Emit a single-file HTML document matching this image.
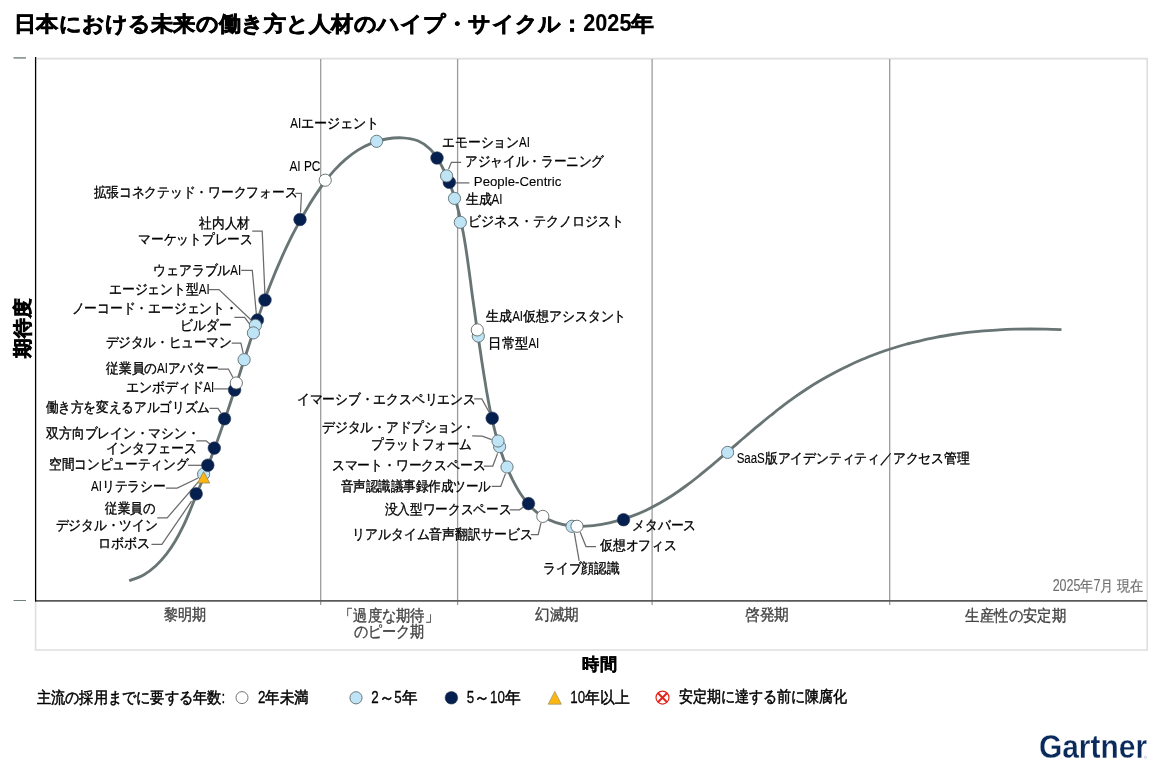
<!DOCTYPE html>
<html lang="ja"><head><meta charset="utf-8"><title>Hype Cycle</title>
<style>html,body{margin:0;padding:0;background:#fff}body{width:1170px;height:771px;overflow:hidden;font-family:"Liberation Sans", sans-serif}svg{display:block;will-change:transform}text{font-family:"Liberation Sans", sans-serif;white-space:pre}</style></head><body>
<svg width="1170" height="771" viewBox="0 0 1170 771">
<rect width="1170" height="771" fill="#fff"/>
<g fill="none">
<path d="M36.5 58.6H1147.2V650H35.6V601" stroke="#dedede" stroke-width="1.6"/>
<path d="M320.7 59V605" stroke="#9c9c9c" stroke-width="1.3"/>
<path d="M457.6 59V605" stroke="#9c9c9c" stroke-width="1.3"/>
<path d="M652.1 59V605" stroke="#9c9c9c" stroke-width="1.3"/>
<path d="M889.7 59V605" stroke="#9c9c9c" stroke-width="1.3"/>
<path d="M35 600.8H1147" stroke="#5a5a5a" stroke-width="1.7"/>
<path d="M35.6 57V601.6" stroke="#000" stroke-width="1.3"/>
<path d="M13.5 57.9H26" stroke="#7b8888" stroke-width="1.5"/>
<path d="M13.5 600.5H26" stroke="#708080" stroke-width="1"/>
<path d="M129.2 580.8C131.6 579.8 139.1 577.4 143.6 574.9C148.0 572.4 152.1 569.2 155.9 565.7C159.7 562.3 163.2 558.3 166.4 554.2C169.6 550.1 172.6 545.6 175.3 541.1C178.0 536.6 180.4 531.9 182.7 527.2C185.0 522.6 187.0 517.9 189.0 513.1C191.0 508.4 192.8 503.6 194.8 498.9C196.7 494.1 198.6 489.3 200.6 484.5C202.5 479.6 204.4 474.8 206.3 469.9C208.3 465.1 210.2 460.2 212.0 455.3C213.9 450.4 215.7 445.5 217.4 440.6C219.2 435.7 220.9 430.8 222.6 425.9C224.3 420.9 226.0 416.0 227.6 411.1C229.3 406.1 230.9 401.2 232.5 396.2C234.1 391.3 235.7 386.3 237.3 381.4C238.9 376.4 240.4 371.5 242.0 366.5C243.6 361.6 245.2 356.7 246.8 351.7C248.4 346.8 250.0 341.9 251.6 336.9C253.3 332.0 254.9 327.1 256.6 322.2C258.3 317.3 260.0 312.4 261.7 307.6C263.5 302.7 265.3 297.8 267.1 293.0C269.0 288.1 270.8 283.3 272.8 278.5C274.7 273.7 276.7 268.9 278.8 264.2C280.8 259.4 282.9 254.7 285.1 250.0C287.3 245.3 289.6 240.6 291.9 235.9C294.3 231.3 296.7 226.7 299.3 222.1C301.8 217.5 304.4 212.9 307.1 208.4C309.8 203.9 312.6 199.3 315.6 194.9C318.5 190.5 321.5 186.1 324.7 182.0C327.9 177.8 331.2 173.7 334.7 169.9C338.2 166.1 341.9 162.4 345.8 159.1C349.6 155.9 353.6 152.8 357.9 150.1C362.2 147.5 366.6 145.1 371.3 143.3C376.0 141.4 381.0 139.9 386.2 139.0C391.3 138.1 397.0 137.5 402.3 137.8C407.6 138.1 413.1 138.9 417.8 140.8C422.5 142.7 426.7 145.7 430.3 149.2C433.9 152.7 436.7 157.3 439.4 161.8C442.1 166.3 444.3 171.2 446.5 176.0C448.6 180.8 450.5 185.6 452.3 190.5C454.0 195.4 455.6 200.4 457.0 205.4C458.4 210.4 459.6 215.4 460.7 220.5C461.9 225.5 462.8 230.7 463.8 235.8C464.7 240.9 465.5 246.0 466.3 251.2C467.1 256.3 467.8 261.5 468.5 266.6C469.2 271.8 469.9 277.0 470.6 282.1C471.2 287.3 471.9 292.4 472.6 297.6C473.4 302.7 474.1 307.9 474.8 313.0C475.5 318.1 476.2 323.3 477.0 328.4C477.7 333.5 478.5 338.7 479.2 343.8C480.0 348.9 480.8 354.1 481.5 359.2C482.3 364.4 483.1 369.5 483.9 374.6C484.8 379.8 485.6 384.9 486.4 390.1C487.3 395.2 488.2 400.4 489.2 405.5C490.2 410.6 491.2 415.7 492.4 420.8C493.6 425.8 494.8 430.9 496.2 435.9C497.5 440.9 499.0 445.9 500.7 450.8C502.3 455.7 504.1 460.6 506.1 465.4C508.0 470.2 510.2 474.9 512.5 479.6C514.9 484.2 517.4 488.9 520.2 493.3C523.1 497.6 526.1 502.0 529.6 505.7C533.1 509.4 537.1 512.9 541.4 515.6C545.7 518.4 550.5 520.7 555.3 522.3C560.2 524.0 565.4 525.1 570.5 525.8C575.6 526.4 580.8 526.5 586.0 526.2C591.2 526.0 596.5 525.3 601.7 524.4C606.8 523.5 612.0 522.3 617.0 520.9C622.1 519.6 627.0 518.0 631.9 516.2C636.7 514.4 641.5 512.4 646.2 510.2C650.8 508.0 655.4 505.6 659.9 503.1C664.3 500.5 668.7 497.8 673.0 495.0C677.4 492.1 681.6 489.1 685.8 486.0C690.0 483.0 694.1 479.8 698.2 476.5C702.3 473.3 706.3 469.9 710.3 466.6C714.3 463.2 718.3 459.8 722.3 456.4C726.3 453.0 730.2 449.6 734.2 446.2C738.1 442.8 742.0 439.3 746.0 436.0C750.0 432.6 753.9 429.2 757.9 425.9C761.9 422.6 765.9 419.2 769.9 416.0C774.0 412.8 778.0 409.5 782.2 406.4C786.3 403.3 790.4 400.2 794.7 397.2C798.9 394.2 803.2 391.3 807.5 388.5C811.9 385.6 816.3 382.9 820.8 380.3C825.2 377.7 829.8 375.1 834.4 372.7C839.0 370.2 843.6 367.9 848.4 365.7C853.1 363.4 857.8 361.3 862.6 359.3C867.4 357.3 872.3 355.4 877.2 353.5C882.0 351.7 887.0 350.0 891.9 348.5C896.9 346.9 901.8 345.4 906.9 344.0C911.9 342.7 916.9 341.4 922.0 340.3C927.0 339.1 932.1 338.1 937.2 337.1C942.3 336.1 947.4 335.3 952.6 334.5C957.7 333.7 962.9 333.0 968.0 332.4C973.2 331.8 978.4 331.3 983.6 330.9C988.8 330.5 994.0 330.1 999.1 329.8C1004.3 329.5 1009.5 329.3 1014.7 329.2C1020.0 329.1 1025.2 329.0 1030.4 329.0C1035.5 329.0 1040.7 329.1 1045.9 329.2C1051.1 329.3 1058.9 329.6 1061.5 329.7" stroke="#697474" stroke-width="2.85"/>
<polyline points="295.4,193.4 301.5,193.4 300.5,212.5" stroke="#6a6a6a" stroke-width="1.25"/>
<polyline points="252.2,231.1 262.2,231.1 264.9,294.0" stroke="#6a6a6a" stroke-width="1.25"/>
<polyline points="241.2,270.4 252.3,270.4 256.4,314.5" stroke="#6a6a6a" stroke-width="1.25"/>
<polyline points="208.9,289.6 219.0,289.6 252.2,321.0" stroke="#6a6a6a" stroke-width="1.25"/>
<polyline points="234.4,317.4 244.6,317.4 250.6,325.4" stroke="#6a6a6a" stroke-width="1.25"/>
<polyline points="231.7,343.0 240.9,343.0 243.2,353.2" stroke="#6a6a6a" stroke-width="1.25"/>
<polyline points="218.0,369.0 228.4,369.0 233.0,377.5" stroke="#6a6a6a" stroke-width="1.25"/>
<polyline points="213.8,388.9 229.5,388.9" stroke="#6a6a6a" stroke-width="1.25"/>
<polyline points="209.5,408.4 218.0,408.4 221.0,413.0" stroke="#6a6a6a" stroke-width="1.25"/>
<polyline points="196.3,440.8 206.1,440.8 209.9,444.0" stroke="#6a6a6a" stroke-width="1.25"/>
<polyline points="188.0,465.3 202.0,465.3" stroke="#6a6a6a" stroke-width="1.25"/>
<polyline points="165.9,488.1 177.2,488.1 198.2,478.0" stroke="#6a6a6a" stroke-width="1.25"/>
<polyline points="157.3,517.8 167.2,517.8 198.6,481.6" stroke="#6a6a6a" stroke-width="1.25"/>
<polyline points="151.5,544.3 161.9,544.3 191.5,501.2" stroke="#6a6a6a" stroke-width="1.25"/>
<polyline points="448.5,169.2 451.4,162.3 461.2,162.3" stroke="#6a6a6a" stroke-width="1.25"/>
<polyline points="455.5,182.9 469.4,182.9" stroke="#6a6a6a" stroke-width="1.25"/>
<polyline points="474.2,398.9 481.8,398.9 489.2,412.2" stroke="#6a6a6a" stroke-width="1.25"/>
<polyline points="472.2,435.9 482.3,436.1 491.6,439.7" stroke="#6a6a6a" stroke-width="1.25"/>
<polyline points="483.8,466.0 492.8,466.0 497.6,453.4" stroke="#6a6a6a" stroke-width="1.25"/>
<polyline points="491.7,486.4 500.7,486.4 505.5,473.6" stroke="#6a6a6a" stroke-width="1.25"/>
<polyline points="509.6,509.8 519.5,509.8 523.5,507.0" stroke="#6a6a6a" stroke-width="1.25"/>
<polyline points="530.8,534.6 538.2,534.6 541.0,522.8" stroke="#6a6a6a" stroke-width="1.25"/>
<polyline points="596.0,546.6 586.0,546.6 580.2,532.2" stroke="#6a6a6a" stroke-width="1.25"/>
<polyline points="574.3,532.8 579.2,560.8" stroke="#6a6a6a" stroke-width="1.25"/>
</g>
<circle cx="196.2" cy="493.8" r="6.3" fill="#05204f" stroke="#2b3a55" stroke-width="0.6"/>
<circle cx="203.6" cy="474.2" r="6.1" fill="#bfe4f6" stroke="#5f6d72" stroke-width="0.9"/>
<path d="M203.6 471.6L209.7 483H197.6Z" fill="#fbb710" stroke="#8a7a55" stroke-width="0.7" stroke-linejoin="round"/>
<circle cx="207.8" cy="465.2" r="6.3" fill="#05204f" stroke="#2b3a55" stroke-width="0.6"/>
<circle cx="214.3" cy="448.1" r="6.3" fill="#05204f" stroke="#2b3a55" stroke-width="0.6"/>
<circle cx="224.5" cy="418.8" r="6.3" fill="#05204f" stroke="#2b3a55" stroke-width="0.6"/>
<circle cx="234.6" cy="390.0" r="6.3" fill="#05204f" stroke="#2b3a55" stroke-width="0.6"/>
<circle cx="236.3" cy="383.0" r="6.1" fill="#fff" stroke="#5f6666" stroke-width="0.9"/>
<circle cx="244.1" cy="359.7" r="6.1" fill="#bfe4f6" stroke="#5f6d72" stroke-width="0.9"/>
<circle cx="257.4" cy="320.1" r="6.3" fill="#05204f" stroke="#2b3a55" stroke-width="0.6"/>
<circle cx="255.4" cy="325.3" r="6.1" fill="#bfe4f6" stroke="#5f6d72" stroke-width="0.9"/>
<circle cx="253.4" cy="332.9" r="6.1" fill="#bfe4f6" stroke="#5f6d72" stroke-width="0.9"/>
<circle cx="265.0" cy="300.0" r="6.3" fill="#05204f" stroke="#2b3a55" stroke-width="0.6"/>
<circle cx="300.0" cy="219.5" r="6.3" fill="#05204f" stroke="#2b3a55" stroke-width="0.6"/>
<circle cx="325.2" cy="180.2" r="6.1" fill="#fff" stroke="#5f6666" stroke-width="0.9"/>
<circle cx="376.6" cy="141.3" r="6.1" fill="#bfe4f6" stroke="#5f6d72" stroke-width="0.9"/>
<circle cx="437.0" cy="158.0" r="6.3" fill="#05204f" stroke="#2b3a55" stroke-width="0.6"/>
<circle cx="449.3" cy="182.3" r="6.3" fill="#05204f" stroke="#2b3a55" stroke-width="0.6"/>
<circle cx="446.6" cy="175.9" r="6.1" fill="#bfe4f6" stroke="#5f6d72" stroke-width="0.9"/>
<circle cx="454.5" cy="198.4" r="6.1" fill="#bfe4f6" stroke="#5f6d72" stroke-width="0.9"/>
<circle cx="460.3" cy="222.3" r="6.1" fill="#bfe4f6" stroke="#5f6d72" stroke-width="0.9"/>
<circle cx="478.3" cy="336.1" r="6.1" fill="#bfe4f6" stroke="#5f6d72" stroke-width="0.9"/>
<circle cx="477.3" cy="329.9" r="6.1" fill="#fff" stroke="#5f6666" stroke-width="0.9"/>
<circle cx="492.2" cy="418.2" r="6.3" fill="#05204f" stroke="#2b3a55" stroke-width="0.6"/>
<circle cx="499.6" cy="446.6" r="6.1" fill="#bfe4f6" stroke="#5f6d72" stroke-width="0.9"/>
<circle cx="498.0" cy="441.0" r="6.1" fill="#bfe4f6" stroke="#5f6d72" stroke-width="0.9"/>
<circle cx="507.0" cy="467.0" r="6.1" fill="#bfe4f6" stroke="#5f6d72" stroke-width="0.9"/>
<circle cx="528.5" cy="503.6" r="6.3" fill="#05204f" stroke="#2b3a55" stroke-width="0.6"/>
<circle cx="542.8" cy="516.4" r="6.1" fill="#fff" stroke="#5f6666" stroke-width="0.9"/>
<circle cx="572.0" cy="526.3" r="6.1" fill="#bfe4f6" stroke="#5f6d72" stroke-width="0.9"/>
<circle cx="577.0" cy="526.3" r="6.1" fill="#fff" stroke="#5f6666" stroke-width="0.9"/>
<circle cx="623.5" cy="519.7" r="6.3" fill="#05204f" stroke="#2b3a55" stroke-width="0.6"/>
<circle cx="727.6" cy="452.4" r="6.1" fill="#bfe4f6" stroke="#5f6d72" stroke-width="0.9"/>
<circle cx="242" cy="697.6" r="6.0" fill="#fff" stroke="#666" stroke-width="0.9"/>
<circle cx="356" cy="697.8" r="6.1" fill="#bfe4f6" stroke="#5f6d72" stroke-width="0.9"/>
<circle cx="451.4" cy="697.8" r="6.3" fill="#05204f" stroke="#2b3a55" stroke-width="0.6"/>
<path d="M554.8 691.4L561.4 704.2H548.2Z" fill="#fbb710" stroke="#9a8c6a" stroke-width="0.7" stroke-linejoin="round"/>
<g stroke="#e3241a" fill="#fff"><circle cx="662.5" cy="697.6" r="6.5" stroke-width="1.2"/><path d="M657.9 693L667.1 702.2M667.1 693L657.9 702.2" stroke-width="2"/></g>
<text id="yl" transform="translate(29.30 357.50) rotate(-90)" font-size="19" font-weight="bold" fill="#000" stroke="#000" stroke-width="0.7" textLength="59.00" lengthAdjust="spacingAndGlyphs">期待度</text>
<text id="logo" x="1038.90" y="758.30" font-size="33" font-weight="bold" fill="#0b2a5c" stroke="#fff" stroke-width="0.35" textLength="108.20" lengthAdjust="spacingAndGlyphs">Gartner</text>
<circle cx="1145.5" cy="757.3" r="1.1" fill="none" stroke="#9aa3b5" stroke-width="0.5"/>
<g id="title" font-size="20.5" fill="#000" font-weight="bold" stroke="#000" stroke-width="0.7"><text x="14.29" y="30.91" textLength="569.03" lengthAdjust="spacingAndGlyphs">日本における未来の働き方と人材のハイプ・サイクル：</text><text x="583.32" y="30.91" stroke-width="0.1" font-size="23.0" textLength="48.10" lengthAdjust="spacingAndGlyphs">2025</text><text x="631.42" y="30.91" textLength="22.76" lengthAdjust="spacingAndGlyphs">年</text></g>
<text id="xl" x="582.34" y="669.62" font-size="16.5" fill="#000" font-weight="bold" stroke="#000" stroke-width="0.35" textLength="34.51" lengthAdjust="spacingAndGlyphs">時間</text>
<text id="p1" x="163.94" y="620.09" font-size="16" fill="#444" stroke="#444" stroke-width="0.35" textLength="42.45" lengthAdjust="spacingAndGlyphs">黎明期</text>
<text id="p2a" x="339.06" y="620.52" font-size="16" fill="#444" stroke="#444" stroke-width="0.35" textLength="100.00" lengthAdjust="spacingAndGlyphs">「過度な期待」</text>
<text id="p2b" x="353.61" y="637.02" font-size="16" fill="#444" stroke="#444" stroke-width="0.35" textLength="70.87" lengthAdjust="spacingAndGlyphs">のピーク期</text>
<text id="p3" x="534.98" y="619.98" font-size="16" fill="#444" stroke="#444" stroke-width="0.35" textLength="44.05" lengthAdjust="spacingAndGlyphs">幻滅期</text>
<text id="p4" x="744.86" y="619.92" font-size="16" fill="#444" stroke="#444" stroke-width="0.35" textLength="44.40" lengthAdjust="spacingAndGlyphs">啓発期</text>
<text id="p5" x="965.44" y="620.71" font-size="16" fill="#444" stroke="#444" stroke-width="0.35" textLength="100.50" lengthAdjust="spacingAndGlyphs">生産性の安定期</text>
<g id="date" font-size="15" fill="#6e6e6e" stroke="#6e6e6e" stroke-width="0.2"><text x="1052.68" y="591.26" stroke-width="0.1" font-size="15.6" textLength="27.77" lengthAdjust="spacingAndGlyphs">2025</text><text x="1080.45" y="591.26" textLength="13.09" lengthAdjust="spacingAndGlyphs">年</text><text x="1093.54" y="591.26" stroke-width="0.1" font-size="15.6" textLength="6.94" lengthAdjust="spacingAndGlyphs">7</text><text x="1100.48" y="591.26" textLength="13.09" lengthAdjust="spacingAndGlyphs">月</text><text x="1117.04" y="591.26" textLength="26.18" lengthAdjust="spacingAndGlyphs">現在</text></g>
<g id="lg0" font-size="15.5" fill="#000" stroke="#000" stroke-width="0.5"><text x="36.66" y="702.92" textLength="184.91" lengthAdjust="spacingAndGlyphs">主流の採用までに要する年数</text><text x="221.57" y="702.92" stroke-width="0.3" font-size="16.7" textLength="3.71" lengthAdjust="spacingAndGlyphs">:</text></g>
<g id="lg1" font-size="15.5" fill="#000" stroke="#000" stroke-width="0.5"><text x="258.05" y="702.95" stroke-width="0.3" font-size="16.7" textLength="7.43" lengthAdjust="spacingAndGlyphs">2</text><text x="265.48" y="702.95" textLength="43.33" lengthAdjust="spacingAndGlyphs">年未満</text></g>
<g id="lg2" font-size="15.5" fill="#000" stroke="#000" stroke-width="0.5"><text x="371.27" y="702.54" stroke-width="0.3" font-size="16.7" textLength="7.43" lengthAdjust="spacingAndGlyphs">2</text><text x="378.70" y="702.54" textLength="15.58" lengthAdjust="spacingAndGlyphs">～</text><text x="394.28" y="702.54" stroke-width="0.3" font-size="16.7" textLength="7.43" lengthAdjust="spacingAndGlyphs">5</text><text x="401.72" y="702.54" textLength="15.58" lengthAdjust="spacingAndGlyphs">年</text></g>
<g id="lg3" font-size="15.5" fill="#000" stroke="#000" stroke-width="0.5"><text x="466.71" y="702.60" stroke-width="0.3" font-size="16.7" textLength="7.43" lengthAdjust="spacingAndGlyphs">5</text><text x="474.14" y="702.60" textLength="15.82" lengthAdjust="spacingAndGlyphs">～</text><text x="489.96" y="702.60" stroke-width="0.3" font-size="16.7" textLength="14.86" lengthAdjust="spacingAndGlyphs">10</text><text x="504.82" y="702.60" textLength="15.82" lengthAdjust="spacingAndGlyphs">年</text></g>
<g id="lg4" font-size="15.5" fill="#000" stroke="#000" stroke-width="0.5"><text x="570.22" y="703.35" stroke-width="0.3" font-size="16.7" textLength="14.86" lengthAdjust="spacingAndGlyphs">10</text><text x="585.08" y="703.35" textLength="44.44" lengthAdjust="spacingAndGlyphs">年以上</text></g>
<text id="lg5" x="678.79" y="701.95" font-size="15.5" fill="#000" stroke="#000" stroke-width="0.5" textLength="168.61" lengthAdjust="spacingAndGlyphs">安定期に達する前に陳腐化</text>
<g id="d01" font-size="14" fill="#000" stroke="#000" stroke-width="0.35"><text x="290.26" y="128.49" stroke-width="0.1" textLength="10.85" lengthAdjust="spacingAndGlyphs">AI</text><text x="301.11" y="128.49" textLength="78.45" lengthAdjust="spacingAndGlyphs">エージェント</text></g>
<text id="d02" x="289.43" y="171.45" font-size="14" fill="#000" stroke="#000" stroke-width="0.1" textLength="31.04" lengthAdjust="spacingAndGlyphs">AI PC</text>
<text id="d03" x="93.54" y="197.16" font-size="14" fill="#000" stroke="#000" stroke-width="0.35" textLength="203.87" lengthAdjust="spacingAndGlyphs">拡張コネクテッド・ワークフォース</text>
<text id="d04" x="199.27" y="227.73" font-size="14" fill="#000" stroke="#000" stroke-width="0.35" textLength="50.62" lengthAdjust="spacingAndGlyphs">社内人材</text>
<text id="d05" x="138.40" y="243.91" font-size="14" fill="#000" stroke="#000" stroke-width="0.35" textLength="114.18" lengthAdjust="spacingAndGlyphs">マーケットプレース</text>
<g id="d06" font-size="14" fill="#000" stroke="#000" stroke-width="0.35"><text x="153.19" y="275.00" textLength="77.10" lengthAdjust="spacingAndGlyphs">ウェアラブル</text><text x="230.29" y="275.00" stroke-width="0.1" textLength="10.85" lengthAdjust="spacingAndGlyphs">AI</text></g>
<g id="d07" font-size="14" fill="#000" stroke="#000" stroke-width="0.35"><text x="108.93" y="294.07" textLength="89.87" lengthAdjust="spacingAndGlyphs">エージェント型</text><text x="198.80" y="294.07" stroke-width="0.1" textLength="10.85" lengthAdjust="spacingAndGlyphs">AI</text></g>
<text id="d08" x="71.61" y="312.66" font-size="14" fill="#000" stroke="#000" stroke-width="0.35" textLength="166.10" lengthAdjust="spacingAndGlyphs">ノーコード・エージェント・</text>
<text id="d09" x="180.25" y="330.24" font-size="14" fill="#000" stroke="#000" stroke-width="0.35" textLength="51.26" lengthAdjust="spacingAndGlyphs">ビルダー</text>
<text id="d10" x="105.53" y="346.66" font-size="14" fill="#000" stroke="#000" stroke-width="0.35" textLength="126.13" lengthAdjust="spacingAndGlyphs">デジタル・ヒューマン</text>
<g id="d11" font-size="14" fill="#000" stroke="#000" stroke-width="0.35"><text x="106.28" y="373.04" textLength="50.70" lengthAdjust="spacingAndGlyphs">従業員の</text><text x="156.98" y="373.04" stroke-width="0.1" textLength="10.85" lengthAdjust="spacingAndGlyphs">AI</text><text x="167.82" y="373.04" textLength="50.70" lengthAdjust="spacingAndGlyphs">アバター</text></g>
<g id="d12" font-size="14" fill="#000" stroke="#000" stroke-width="0.35"><text x="125.72" y="392.07" textLength="77.75" lengthAdjust="spacingAndGlyphs">エンボディド</text><text x="203.47" y="392.07" stroke-width="0.1" textLength="10.85" lengthAdjust="spacingAndGlyphs">AI</text></g>
<text id="d13" x="45.54" y="412.43" font-size="14" fill="#000" stroke="#000" stroke-width="0.35" textLength="164.49" lengthAdjust="spacingAndGlyphs">働き方を変えるアルゴリズム</text>
<text id="d14" x="46.17" y="437.85" font-size="14" fill="#000" stroke="#000" stroke-width="0.35" textLength="153.48" lengthAdjust="spacingAndGlyphs">双方向ブレイン・マシン・</text>
<text id="d15" x="106.16" y="453.20" font-size="14" fill="#000" stroke="#000" stroke-width="0.35" textLength="90.72" lengthAdjust="spacingAndGlyphs">インタフェース</text>
<text id="d16" x="49.00" y="469.34" font-size="14" fill="#000" stroke="#000" stroke-width="0.35" textLength="139.18" lengthAdjust="spacingAndGlyphs">空間コンピューティング</text>
<g id="d17" font-size="14" fill="#000" stroke="#000" stroke-width="0.35"><text x="90.98" y="491.26" stroke-width="0.1" textLength="10.85" lengthAdjust="spacingAndGlyphs">AI</text><text x="101.83" y="491.26" textLength="63.99" lengthAdjust="spacingAndGlyphs">リテラシー</text></g>
<text id="d18" x="105.30" y="512.56" font-size="14" fill="#000" stroke="#000" stroke-width="0.35" textLength="49.81" lengthAdjust="spacingAndGlyphs">従業員の</text>
<text id="d19" x="55.72" y="530.27" font-size="14" fill="#000" stroke="#000" stroke-width="0.35" textLength="101.92" lengthAdjust="spacingAndGlyphs">デジタル・ツイン</text>
<text id="d20" x="97.75" y="547.99" font-size="14" fill="#000" stroke="#000" stroke-width="0.35" textLength="52.34" lengthAdjust="spacingAndGlyphs">ロボボス</text>
<g id="d21" font-size="14" fill="#000" stroke="#000" stroke-width="0.35"><text x="442.13" y="147.03" textLength="76.90" lengthAdjust="spacingAndGlyphs">エモーション</text><text x="519.03" y="147.03" stroke-width="0.1" textLength="10.85" lengthAdjust="spacingAndGlyphs">AI</text></g>
<text id="d22" x="465.20" y="165.80" font-size="14" fill="#000" stroke="#000" stroke-width="0.35" textLength="138.87" lengthAdjust="spacingAndGlyphs">アジャイル・ラーニング</text>
<text id="d23" x="473.84" y="186.45" font-size="13.2" fill="#000" stroke="#000" stroke-width="0.1" textLength="87.51" lengthAdjust="spacingAndGlyphs">People-Centric</text>
<g id="d24" font-size="14" fill="#000" stroke="#000" stroke-width="0.35"><text x="465.65" y="203.79" textLength="25.87" lengthAdjust="spacingAndGlyphs">生成</text><text x="491.52" y="203.79" stroke-width="0.1" textLength="10.85" lengthAdjust="spacingAndGlyphs">AI</text></g>
<text id="d25" x="467.93" y="226.16" font-size="14" fill="#000" stroke="#000" stroke-width="0.35" textLength="156.44" lengthAdjust="spacingAndGlyphs">ビジネス・テクノロジスト</text>
<g id="d26" font-size="14" fill="#000" stroke="#000" stroke-width="0.35"><text x="486.31" y="321.07" textLength="25.85" lengthAdjust="spacingAndGlyphs">生成</text><text x="512.16" y="321.07" stroke-width="0.1" textLength="10.85" lengthAdjust="spacingAndGlyphs">AI</text><text x="523.01" y="321.07" textLength="103.39" lengthAdjust="spacingAndGlyphs">仮想アシスタント</text></g>
<g id="d27" font-size="14" fill="#000" stroke="#000" stroke-width="0.35"><text x="488.28" y="347.61" textLength="40.11" lengthAdjust="spacingAndGlyphs">日常型</text><text x="528.39" y="347.61" stroke-width="0.1" textLength="10.85" lengthAdjust="spacingAndGlyphs">AI</text></g>
<text id="d28" x="296.72" y="403.70" font-size="14" fill="#000" stroke="#000" stroke-width="0.35" textLength="178.99" lengthAdjust="spacingAndGlyphs">イマーシブ・エクスペリエンス</text>
<text id="d29" x="322.02" y="432.13" font-size="14" fill="#000" stroke="#000" stroke-width="0.35" textLength="153.18" lengthAdjust="spacingAndGlyphs">デジタル・アドプション・</text>
<text id="d30" x="371.12" y="449.10" font-size="14" fill="#000" stroke="#000" stroke-width="0.35" textLength="100.86" lengthAdjust="spacingAndGlyphs">プラットフォーム</text>
<text id="d31" x="331.87" y="469.51" font-size="14" fill="#000" stroke="#000" stroke-width="0.35" textLength="153.54" lengthAdjust="spacingAndGlyphs">スマート・ワークスペース</text>
<text id="d32" x="340.91" y="490.81" font-size="14" fill="#000" stroke="#000" stroke-width="0.35" textLength="150.08" lengthAdjust="spacingAndGlyphs">音声認識議事録作成ツール</text>
<text id="d33" x="384.83" y="514.45" font-size="14" fill="#000" stroke="#000" stroke-width="0.35" textLength="126.42" lengthAdjust="spacingAndGlyphs">没入型ワークスペース</text>
<text id="d34" x="352.28" y="538.61" font-size="14" fill="#000" stroke="#000" stroke-width="0.35" textLength="180.20" lengthAdjust="spacingAndGlyphs">リアルタイム音声翻訳サービス</text>
<text id="d35" x="632.26" y="529.77" font-size="14" fill="#000" stroke="#000" stroke-width="0.35" textLength="64.00" lengthAdjust="spacingAndGlyphs">メタバース</text>
<text id="d36" x="599.89" y="550.28" font-size="14" fill="#000" stroke="#000" stroke-width="0.35" textLength="76.93" lengthAdjust="spacingAndGlyphs">仮想オフィス</text>
<text id="d37" x="543.14" y="572.59" font-size="14" fill="#000" stroke="#000" stroke-width="0.35" textLength="76.41" lengthAdjust="spacingAndGlyphs">ライブ顔認識</text>
<g id="d38" font-size="14" fill="#000" stroke="#000" stroke-width="0.35"><text x="736.65" y="462.52" stroke-width="0.1" textLength="28.08" lengthAdjust="spacingAndGlyphs">SaaS</text><text x="764.74" y="462.52" textLength="204.81" lengthAdjust="spacingAndGlyphs">版アイデンティティ／アクセス管理</text></g>
</svg></body></html>
